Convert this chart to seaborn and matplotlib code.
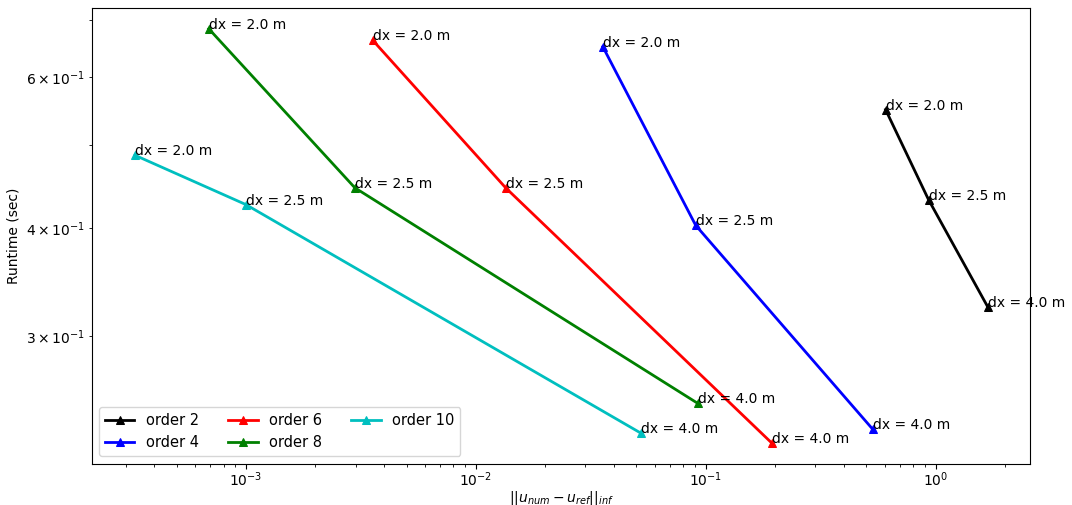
import numpy as np
import pandas as pd
import matplotlib
matplotlib.use('Agg')
import matplotlib.pyplot as plt
import seaborn as sns

# Valores (erro x tempo de execucao)
ordens = ['order 2', 'order 4', 'order 6', 'order 8', 'order 10']
cores = ['k', 'b', 'r', 'g', 'c']
dx_labels = ['dx = 2.0 m', 'dx = 2.5 m', 'dx = 4.0 m']

erro_o2 = [0.606, 0.932, 1.683]
erro_o4 = [0.0357, 0.0905, 0.532]
erro_o6 = [0.00357, 0.01349, 0.1936]
erro_o8 = [0.00069, 0.00298, 0.0923]
erro_o10 = [0.000329, 0.00100, 0.0522]

tempo_o2 = [0.550, 0.432, 0.3244]
tempo_o4 = [0.651, 0.4033, 0.2336]
tempo_o6 = [0.662, 0.446, 0.2251]
tempo_o8 = [0.683, 0.446, 0.2503]
tempo_o10 = [0.4867, 0.4264, 0.2311]

erros = [erro_o2, erro_o4, erro_o6, erro_o8, erro_o10]
tempos = [tempo_o2, tempo_o4, tempo_o6, tempo_o8, tempo_o10]

fig, ax = plt.subplots(figsize=(10.72, 5.05), dpi=100)
fig.subplots_adjust(left=0.086, right=0.961, top=0.984, bottom=0.082)

for ordem, cor, erro, tempo in zip(ordens, cores, erros, tempos):
    df = pd.DataFrame({'erro': erro, 'tempo': tempo})
    sns.lineplot(data=df, x='erro', y='tempo', sort=False, color=cor, marker='^',
                 markersize=6, mec=cor, mfc=cor, linewidth=2, label=ordem, ax=ax)
    for x, y, txt in zip(erro, tempo, dx_labels):
        ax.text(x, y, txt, fontsize=10)

ax.set_xscale('log')
ax.set_yscale('log')
ax.tick_params(axis='x', which='major', pad=1.5)
ax.set_xlabel(r'$||u_{num} - u_{ref}||_{inf}$', labelpad=0)
ax.set_ylabel('Runtime (sec)')
ax.legend(loc='lower left', ncol=3, fontsize=10.5)

plt.savefig('out.png', dpi=100)
